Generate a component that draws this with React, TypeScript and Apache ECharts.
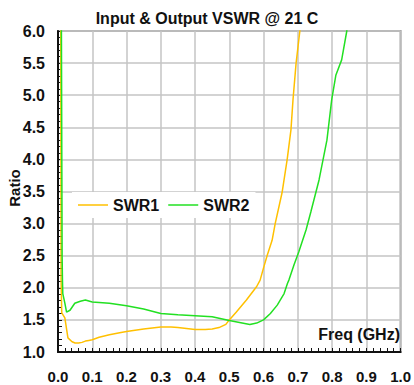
import React, { useEffect, useRef } from "react";
import * as echarts from "echarts";

const xTicks = [0, 0.1, 0.2, 0.3, 0.4, 0.5, 0.6, 0.7, 0.8, 0.9, 1.0];
const yTicks = [1.0, 1.5, 2.0, 2.5, 3.0, 3.5, 4.0, 4.5, 5.0, 5.5, 6.0];

const swr1Freq = [0.004, 0.008, 0.009, 0.011, 0.02, 0.029, 0.041, 0.05, 0.06, 0.07, 0.08, 0.09, 0.1, 0.12, 0.15, 0.18, 0.2, 0.25, 0.3, 0.33, 0.35, 0.4, 0.43, 0.45, 0.47, 0.49, 0.5, 0.52, 0.55, 0.58, 0.59, 0.6, 0.611, 0.625, 0.634, 0.654, 0.669, 0.68, 0.686, 0.695, 0.706, 0.715];
const swr1Values = [9.0, 6.5, 2.12, 1.61, 1.53, 1.22, 1.16, 1.14, 1.14, 1.15, 1.17, 1.18, 1.19, 1.23, 1.27, 1.3, 1.32, 1.36, 1.39, 1.39, 1.38, 1.35, 1.35, 1.36, 1.38, 1.43, 1.5, 1.62, 1.81, 2.02, 2.12, 2.31, 2.51, 2.74, 3.0, 3.48, 4.0, 4.46, 4.93, 5.5, 6.0, 6.5];

const swr2Freq = [0.004, 0.01, 0.012, 0.013, 0.014, 0.02, 0.025, 0.035, 0.049, 0.065, 0.08, 0.1, 0.15, 0.2, 0.25, 0.3, 0.35, 0.4, 0.45, 0.5, 0.53, 0.56, 0.58, 0.6, 0.62, 0.64, 0.66, 0.67, 0.674, 0.689, 0.703, 0.724, 0.738, 0.762, 0.785, 0.799, 0.811, 0.828, 0.843, 0.85];
const swr2Values = [9.0, 6.0, 2.5, 2.12, 1.91, 1.76, 1.62, 1.65, 1.76, 1.79, 1.81, 1.78, 1.76, 1.72, 1.67, 1.6, 1.58, 1.565, 1.55, 1.49, 1.46, 1.43, 1.45, 1.5, 1.6, 1.73, 1.91, 2.07, 2.12, 2.36, 2.56, 2.9, 3.18, 3.68, 4.3, 4.93, 5.31, 5.55, 6.0, 6.3];

const FONT = "'Liberation Sans', Arial, sans-serif";

export default function App() {
  const ref = useRef<HTMLDivElement>(null);
  useEffect(() => {
    document.body.style.margin = "0";
    if (!ref.current) return;
    const chart = echarts.init(ref.current, null, { renderer: "svg" });
    const s1 = swr1Freq.map((f, i) => [f, swr1Values[i]]);
    const s2 = swr2Freq.map((f, i) => [f, swr2Values[i]]);
    chart.setOption({
      animation: false,
      backgroundColor: "#fff",
      textStyle: { fontFamily: FONT },
      title: {
        text: "Input & Output VSWR @ 21 C",
        left: "center",
        top: 5,
        textStyle: { fontSize: 16, fontWeight: "bold", color: "#111", fontFamily: FONT },
      },
      grid: {
        left: 58,
        right: 12,
        top: 31,
        bottom: 33,
        show: true,
        borderColor: "#9a9a9a",
        borderWidth: 2,
        backgroundColor: "transparent",
      },
      legend: {
        left: 72,
        top: 192,
        padding: [5, 6, 5, 6],
        icon: "rect",
        itemWidth: 30,
        itemHeight: 1.5,
        itemGap: 9,
        backgroundColor: "#fff",
        textStyle: { fontSize: 16, fontWeight: "bold", color: "#111", fontFamily: FONT },
        data: ["SWR1", "SWR2"],
      },
      xAxis: {
        type: "value",
        min: xTicks[0],
        max: xTicks[xTicks.length - 1],
        interval: 0.1,
        axisLine: { show: true, onZero: false, lineStyle: { color: "#111", width: 2 } },
        axisTick: { show: true, inside: true, length: 4, lineStyle: { color: "#111", width: 1 } },
        minorTick: { show: true, splitNumber: 5, length: 4, lineStyle: { color: "#111", width: 1 } },
        splitLine: { show: true, lineStyle: { color: "#c4c4c4", width: 1.5 } },
        axisLabel: {
          margin: 17,
          fontSize: 15,
          fontWeight: "bold",
          color: "#111",
          fontFamily: FONT,
          formatter: (v: number) => v.toFixed(1),
        },
      },
      yAxis: {
        type: "value",
        min: yTicks[0],
        max: yTicks[yTicks.length - 1],
        interval: 0.5,
        axisLine: { show: true, onZero: false, lineStyle: { color: "#111", width: 2 } },
        axisTick: { show: true, inside: true, length: 4, lineStyle: { color: "#111", width: 1 } },
        minorTick: { show: true, splitNumber: 5, length: 4, lineStyle: { color: "#111", width: 1 } },
        splitLine: { show: true, lineStyle: { color: "#c4c4c4", width: 1.5 } },
        axisLabel: {
          margin: 13,
          fontSize: 16,
          fontWeight: "bold",
          color: "#111",
          fontFamily: FONT,
          formatter: (v: number) => v.toFixed(1),
        },
      },
      graphic: [
        {
          type: "text",
          right: 14,
          top: 326,
          style: { text: "Freq (GHz)", fontSize: 16, fontWeight: "bold", fill: "#111", fontFamily: FONT },
          z: 100,
        },
        {
          type: "text",
          x: 14,
          y: 188,
          rotation: Math.PI / 2,
          style: {
            text: "Ratio",
            fontSize: 15,
            fontWeight: "bold",
            fill: "#111",
            fontFamily: FONT,
            align: "center",
            verticalAlign: "middle",
          },
          z: 100,
        },
      ],
      series: [
        {
          name: "SWR1",
          type: "line",
          data: s1,
          symbol: "none",
          showSymbol: false,
          clip: true,
          color: "#FFC000",
          lineStyle: { color: "#FFC000", width: 1.5 },
        },
        {
          name: "SWR2",
          type: "line",
          data: s2,
          symbol: "none",
          showSymbol: false,
          clip: true,
          color: "#22E022",
          lineStyle: { color: "#22E022", width: 1.5 },
        },
      ],
    });
    return () => chart.dispose();
  }, []);
  return <div ref={ref} style={{ width: 414, height: 385 }} />;
}
